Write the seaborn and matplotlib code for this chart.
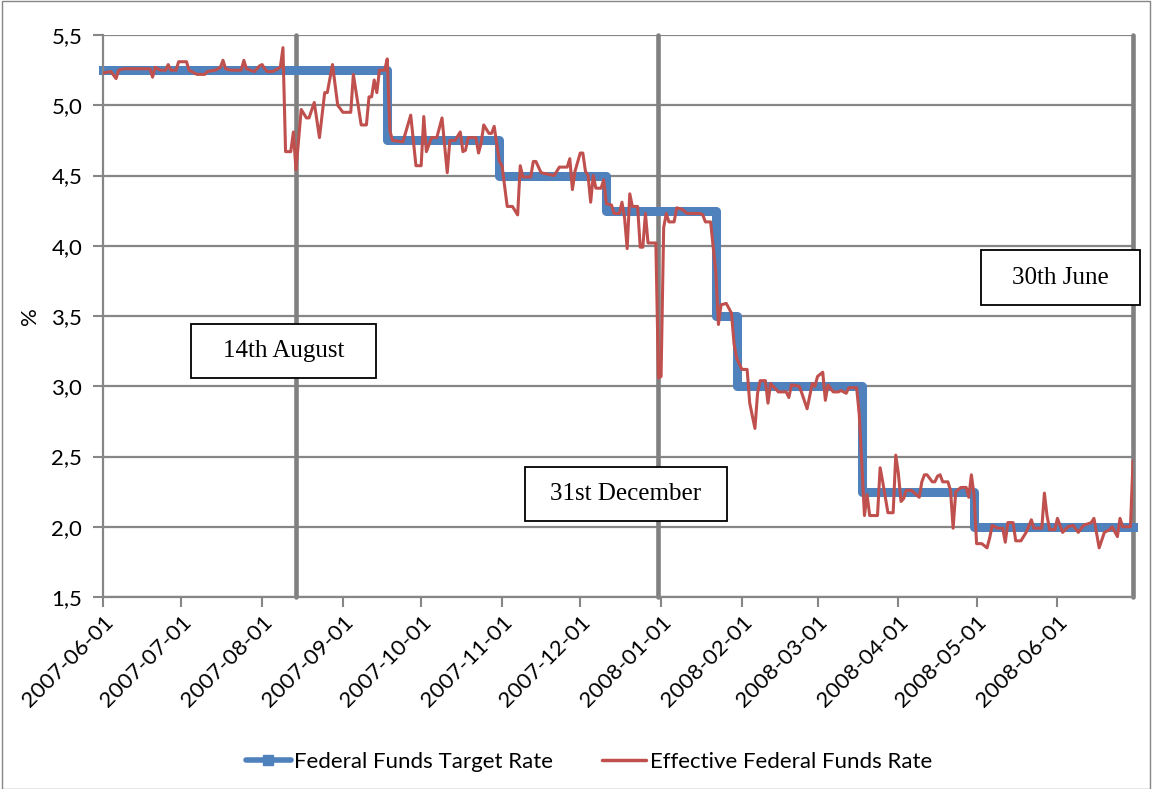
import pandas as pd
import matplotlib
matplotlib.use('Agg')
import matplotlib.pyplot as plt
import matplotlib.dates as mdates
from matplotlib.lines import Line2D
from matplotlib.patches import Rectangle
import seaborn as sns

# Fed funds target: date of each change and the new level
target_dates = ['2007-06-01', '2007-09-18', '2007-10-31', '2007-12-11', '2008-01-22',
                '2008-01-30', '2008-03-18', '2008-04-30', '2008-06-30']
target_rates = [5.25, 4.75, 4.50, 4.25, 3.50, 3.00, 2.25, 2.00, 2.00]

# effective rate
eff_dates = [
    '2007-06-01', '2007-06-04', '2007-06-06', '2007-06-07', '2007-06-09', '2007-06-19', '2007-06-20',
    '2007-06-21', '2007-06-23', '2007-06-25', '2007-06-26', '2007-06-27', '2007-06-29', '2007-06-30',
    '2007-07-03', '2007-07-04', '2007-07-07', '2007-07-10', '2007-07-11', '2007-07-14', '2007-07-16',
    '2007-07-17', '2007-07-18', '2007-07-20', '2007-07-24', '2007-07-25', '2007-07-26', '2007-07-29',
    '2007-07-31', '2007-08-01', '2007-08-02', '2007-08-03', '2007-08-05', '2007-08-07', '2007-08-08',
    '2007-08-09', '2007-08-10', '2007-08-12', '2007-08-13', '2007-08-14', '2007-08-16', '2007-08-18',
    '2007-08-19', '2007-08-21', '2007-08-23', '2007-08-25', '2007-08-26', '2007-08-28', '2007-08-30',
    '2007-09-01', '2007-09-04', '2007-09-05', '2007-09-08', '2007-09-10', '2007-09-11', '2007-09-12',
    '2007-09-13', '2007-09-14', '2007-09-15', '2007-09-17', '2007-09-18', '2007-09-19', '2007-09-20',
    '2007-09-24', '2007-09-27', '2007-09-29', '2007-10-01', '2007-10-02', '2007-10-03', '2007-10-05',
    '2007-10-07', '2007-10-09', '2007-10-11', '2007-10-12', '2007-10-14', '2007-10-16', '2007-10-17',
    '2007-10-18', '2007-10-19', '2007-10-22', '2007-10-23', '2007-10-24', '2007-10-25', '2007-10-27',
    '2007-10-28', '2007-10-29', '2007-10-31', '2007-11-01', '2007-11-03', '2007-11-05', '2007-11-07',
    '2007-11-08', '2007-11-09', '2007-11-12', '2007-11-13', '2007-11-14', '2007-11-16', '2007-11-21',
    '2007-11-23', '2007-11-26', '2007-11-27', '2007-11-28', '2007-11-29', '2007-12-01', '2007-12-02',
    '2007-12-03', '2007-12-04', '2007-12-05', '2007-12-06', '2007-12-07', '2007-12-09', '2007-12-10',
    '2007-12-11', '2007-12-13', '2007-12-14', '2007-12-16', '2007-12-17', '2007-12-18', '2007-12-19',
    '2007-12-20', '2007-12-21', '2007-12-23', '2007-12-24', '2007-12-25', '2007-12-26', '2007-12-27',
    '2007-12-30', '2007-12-31', '2008-01-01', '2008-01-02', '2008-01-03', '2008-01-04', '2008-01-06',
    '2008-01-07', '2008-01-09', '2008-01-11', '2008-01-16', '2008-01-17', '2008-01-18', '2008-01-20',
    '2008-01-22', '2008-01-23', '2008-01-24', '2008-01-26', '2008-01-28', '2008-01-29', '2008-01-30',
    '2008-02-01', '2008-02-03', '2008-02-04', '2008-02-06', '2008-02-07', '2008-02-08', '2008-02-10',
    '2008-02-11', '2008-02-12', '2008-02-15', '2008-02-18', '2008-02-19', '2008-02-20', '2008-02-23',
    '2008-02-24', '2008-02-26', '2008-02-28', '2008-02-29', '2008-03-01', '2008-03-03', '2008-03-04',
    '2008-03-05', '2008-03-07', '2008-03-09', '2008-03-10', '2008-03-12', '2008-03-13', '2008-03-16',
    '2008-03-17', '2008-03-19', '2008-03-20', '2008-03-21', '2008-03-24', '2008-03-25', '2008-03-26',
    '2008-03-28', '2008-03-30', '2008-03-31', '2008-04-01', '2008-04-02', '2008-04-03', '2008-04-04',
    '2008-04-06', '2008-04-09', '2008-04-10', '2008-04-11', '2008-04-12', '2008-04-14', '2008-04-15',
    '2008-04-16', '2008-04-17', '2008-04-18', '2008-04-20', '2008-04-21', '2008-04-22', '2008-04-23',
    '2008-04-25', '2008-04-27', '2008-04-28', '2008-04-29', '2008-04-30', '2008-05-01', '2008-05-03',
    '2008-05-05', '2008-05-06', '2008-05-07', '2008-05-09', '2008-05-11', '2008-05-12', '2008-05-13',
    '2008-05-15', '2008-05-16', '2008-05-18', '2008-05-20', '2008-05-22', '2008-05-23', '2008-05-26',
    '2008-05-27', '2008-05-28', '2008-05-29', '2008-05-31', '2008-06-01', '2008-06-03', '2008-06-05',
    '2008-06-07', '2008-06-09', '2008-06-11', '2008-06-14', '2008-06-15', '2008-06-17', '2008-06-19',
    '2008-06-21', '2008-06-22', '2008-06-24', '2008-06-25', '2008-06-26', '2008-06-29', '2008-06-30',
]
eff_rates = [
    5.23, 5.24, 5.19, 5.25, 5.26, 5.26, 5.20,
    5.27, 5.25, 5.25, 5.29, 5.25, 5.25, 5.31,
    5.31, 5.25, 5.22, 5.22, 5.24, 5.25, 5.27,
    5.32, 5.26, 5.25, 5.25, 5.32, 5.26, 5.24,
    5.28, 5.29, 5.26, 5.24, 5.24, 5.26, 5.27,
    5.41, 4.67, 4.67, 4.81, 4.54, 4.97, 4.91,
    4.91, 5.02, 4.77, 5.09, 5.09, 5.29, 5.00,
    4.95, 4.95, 5.22, 4.86, 4.86, 5.06, 5.06,
    5.18, 5.09, 5.25, 5.25, 5.33, 4.82, 4.75,
    4.74, 4.93, 4.57, 4.57, 4.92, 4.67, 4.77,
    4.77, 4.91, 4.52, 4.75, 4.75, 4.81, 4.67,
    4.68, 4.77, 4.77, 4.66, 4.73, 4.86, 4.80,
    4.80, 4.85, 4.60, 4.57, 4.28, 4.28, 4.22,
    4.57, 4.49, 4.49, 4.60, 4.60, 4.52, 4.50,
    4.56, 4.56, 4.62, 4.40, 4.53, 4.66, 4.66,
    4.53, 4.50, 4.31, 4.50, 4.41, 4.41, 4.47,
    4.30, 4.29, 4.23, 4.23, 4.31, 4.20, 3.98,
    4.37, 4.28, 4.28, 3.99, 3.99, 4.23, 4.02,
    4.02, 3.06, 3.07, 4.13, 4.23, 4.17, 4.17,
    4.27, 4.26, 4.23, 4.23, 4.22, 4.17, 4.17,
    3.81, 3.44, 3.58, 3.59, 3.52, 3.30, 3.20,
    3.12, 3.12, 2.88, 2.70, 2.95, 3.04, 3.04,
    2.88, 3.02, 2.96, 2.96, 2.92, 3.01, 3.00,
    2.95, 2.84, 3.02, 3.00, 3.07, 3.10, 2.90,
    3.01, 2.96, 2.96, 2.97, 2.95, 2.99, 2.99,
    2.80, 2.08, 2.23, 2.08, 2.08, 2.42, 2.32,
    2.10, 2.10, 2.51, 2.38, 2.18, 2.20, 2.26,
    2.26, 2.21, 2.32, 2.37, 2.37, 2.32, 2.32,
    2.36, 2.37, 2.32, 2.32, 2.26, 1.99, 2.25,
    2.28, 2.28, 2.21, 2.37, 2.23, 1.88, 1.88,
    1.85, 1.92, 2.01, 1.99, 1.99, 1.89, 2.03,
    2.03, 1.90, 1.90, 1.96, 2.05, 1.99, 1.99,
    2.24, 2.08, 1.98, 1.98, 2.06, 1.96, 2.00,
    2.01, 1.96, 2.01, 2.03, 2.06, 1.85, 1.96,
    1.98, 2.00, 1.93, 2.06, 2.00, 2.00, 2.47,
]

event_dates = ['2007-08-14', '2007-12-31', '2008-06-30']
event_labels = ['14th August', '31st December', '30th June']

y_ticks = [1.5, 2.0, 2.5, 3.0, 3.5, 4.0, 4.5, 5.0, 5.5]
y_ticklabels = ['1,5', '2,0', '2,5', '3,0', '3,5', '4,0', '4,5', '5,0', '5,5']

blue = '#4F81BD'
red = '#C0504D'
grey = '#868686'

sns.set_style('white')
plt.rcParams['font.family'] = ['Lato', 'DejaVu Sans']
plt.rcParams['text.color'] = 'black'
plt.rcParams['axes.labelcolor'] = 'black'

target = pd.DataFrame({'date': pd.to_datetime(target_dates), 'rate': target_rates})
eff = pd.DataFrame({'date': pd.to_datetime(eff_dates), 'rate': eff_rates})

fig = plt.figure(figsize=(11.55, 7.89), dpi=100)
ax = fig.add_axes([0.0892, 0.2433, 0.8918, 0.7123])

ax.yaxis.grid(True, color=grey, lw=1.6)
ax.set_axisbelow(True)

for d in event_dates:
    ax.axvline(pd.Timestamp(d), color='#808080', lw=3.3, zorder=1.5, clip_on=False)

sns.lineplot(data=target, x='date', y='rate', ax=ax, color=blue, lw=6.5,
             drawstyle='steps-post', solid_capstyle='projecting', clip_on=False, zorder=2)
sns.lineplot(data=eff, x='date', y='rate', ax=ax, color=red, lw=2.2, zorder=3)

ax.set_xlim(pd.Timestamp('2007-06-01'), pd.Timestamp('2008-06-30'))
ax.set_ylim(1.5, 5.5)
ax.set_yticks(y_ticks)
ax.set_yticklabels(y_ticklabels)
ax.xaxis.set_major_locator(mdates.MonthLocator())
ax.xaxis.set_major_formatter(mdates.DateFormatter('%Y-%m-%d'))
ax.tick_params(axis='both', direction='out', length=7, width=1.5, color=grey,
               labelsize=16, labelcolor='black', left=True, bottom=True)
ax.tick_params(axis='y', pad=8)
ax.tick_params(axis='x', pad=4)
plt.setp(ax.get_xticklabels(), rotation=45, ha='right', rotation_mode='anchor')
ax.set_xlabel('')
ax.set_ylabel('%', fontsize=16, labelpad=8)

for side in ['top', 'right']:
    ax.spines[side].set_visible(False)
for side in ['left', 'bottom']:
    ax.spines[side].set_color(grey)
    ax.spines[side].set_linewidth(1.6)

# text boxes (axes fraction)
boxes = [(0.0854, 0.3897, 0.1796, 0.0961),
         (0.4097, 0.1352, 0.1961, 0.0961),
         (0.8524, 0.5196, 0.1544, 0.0979)]
for (x0, y0, w, h), txt in zip(boxes, event_labels):
    ax.add_patch(Rectangle((x0, y0), w, h, transform=ax.transAxes, facecolor='white',
                           edgecolor='black', lw=1.3, clip_on=False, zorder=5))
    ax.text(x0 + w / 2, y0 + h / 2, txt, transform=ax.transAxes, ha='center', va='center',
            fontsize=18, family='Liberation Serif', zorder=6)

handles = [Line2D([], [], color=blue, lw=4, marker='s', markersize=7),
           Line2D([], [], color=red, lw=2.5)]
fig.legend(handles, ['Federal Funds Target Rate', 'Effective Federal Funds Rate'],
           loc='center', bbox_to_anchor=(0.51, 0.034), ncol=2, frameon=False, fontsize=16,
           handlelength=2.0, handletextpad=0.15, columnspacing=2.2)

fig.patches.append(Rectangle((0.002, 0.0), 0.994, 0.999, transform=fig.transFigure,
                             fill=False, edgecolor=grey, lw=1))

fig.savefig('out.png', dpi=100)
